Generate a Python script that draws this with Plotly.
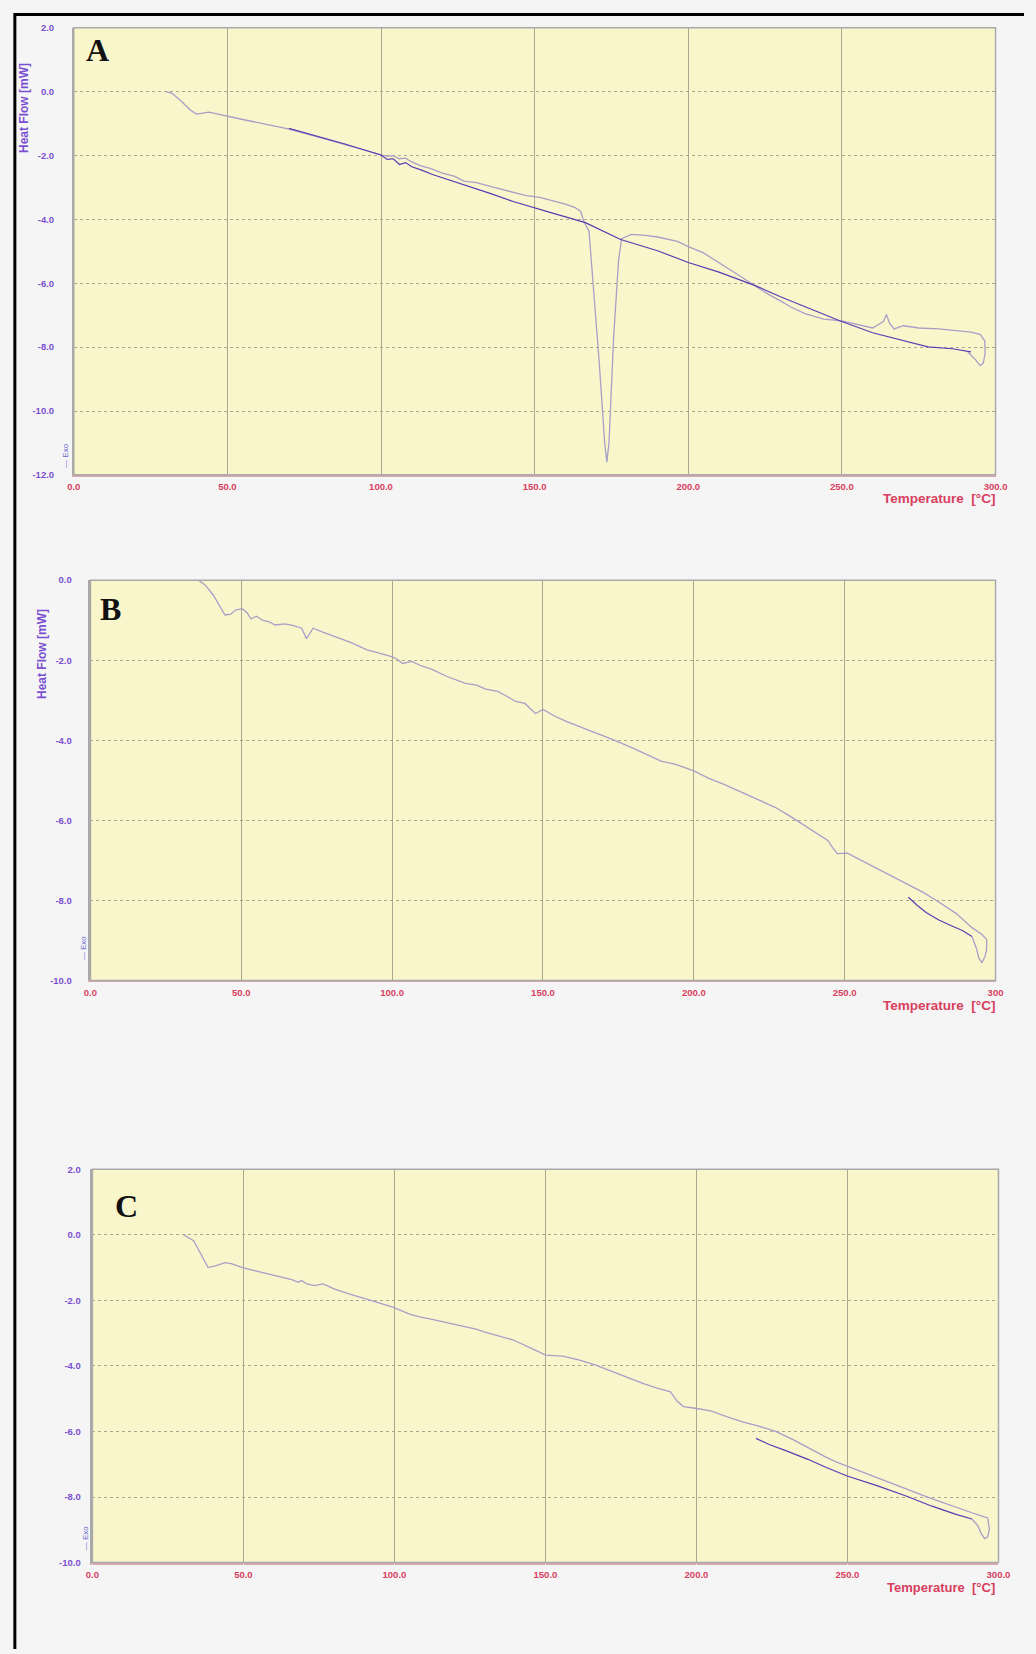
import plotly.graph_objects as go

W, H = 1036, 1654

# ---------------- data ----------------
T_A_heat = [30, 32, 35, 38, 40, 42, 44, 47, 50, 55, 60, 65, 69, 75, 80, 85, 90, 95, 100, 102,
            104, 106, 108, 110, 113, 116, 120, 124, 127, 131, 135, 139, 143, 147, 152, 156, 160, 163, 165,
            166, 167.7, 171, 172.8, 173.5, 174.2, 175.7, 177.3, 178.3,
            181.5, 186, 190, 196.5, 200, 204.8, 210, 217.6, 222, 226, 230, 233.5, 238, 244, 250, 255, 260,
            263.5, 264.5, 265.5, 267, 270, 275, 281.5, 287, 292, 295, 296.5, 296.6, 296, 295, 293.5, 291]
HF_A_heat = [0, -0.05, -0.3, -0.58, -0.7, -0.68, -0.64, -0.7, -0.77, -0.87, -0.97, -1.06, -1.15, -1.3,
             -1.43, -1.57, -1.7, -1.84, -1.98, -2.02, -2.0, -2.1, -2.08, -2.2, -2.32, -2.4, -2.55, -2.65,
             -2.8, -2.85, -2.95, -3.05, -3.13, -3.25, -3.32, -3.42, -3.52, -3.62, -3.75,
             -4.06, -4.37, -8.45, -11.0, -11.6, -11.0, -7.7, -5.3, -4.6,
             -4.47, -4.5, -4.55, -4.69, -4.85, -5.04, -5.35, -5.82, -6.1, -6.34, -6.55, -6.75, -6.95,
             -7.12, -7.18, -7.3, -7.4, -7.2, -6.98, -7.25, -7.43, -7.33, -7.4, -7.43, -7.47, -7.53, -7.6,
             -7.8, -8.2, -8.5, -8.58, -8.4, -8.15]

T_A_cool = [292, 286, 278, 270, 260, 249.5, 240, 230, 222, 210, 200, 190, 178, 166.5, 155, 143, 135,
            128, 122, 117, 113, 110, 108, 106, 104, 102, 100, 97, 93, 88, 82, 76, 70]
HF_A_cool = [-8.15, -8.05, -7.99, -7.8, -7.55, -7.18, -6.82, -6.42, -6.08, -5.65, -5.35, -4.98, -4.63,
             -4.1, -3.78, -3.44, -3.17, -2.95, -2.75, -2.6, -2.45, -2.35, -2.22, -2.28, -2.1, -2.12,
             -1.98, -1.9, -1.78, -1.63, -1.47, -1.3, -1.15]

T_B_heat = [35.8, 38, 40.7, 42.5, 44.6, 46.5, 48.2, 50.4, 52, 53.2, 55, 57, 59.2, 61.2, 64.4, 67, 70,
            71.6, 73, 73.8, 77, 80.8, 86, 91.7, 96, 99.9, 101.5, 103.5, 106.4, 110, 113.2, 118, 124.3,
            128, 131, 135, 138, 141, 144, 147.5, 150, 154, 157.5, 162, 167, 172.8, 180, 189.1, 194,
            199.8, 205, 210, 216, 222, 227.1, 232, 237.9, 242, 244.4, 246, 247.5, 250.9, 255, 259.7,
            265, 270.4, 276, 281.2, 287, 292.2, 295.5, 297.1, 297, 296.5, 295.5, 294.5, 293.8, 292.2]
HF_B_heat = [0, -0.12, -0.37, -0.6, -0.87, -0.85, -0.74, -0.72, -0.82, -0.97, -0.9, -1.0, -1.04, -1.12,
             -1.09, -1.13, -1.2, -1.46, -1.3, -1.2, -1.3, -1.41, -1.55, -1.74, -1.83, -1.91, -1.97,
             -2.08, -2.03, -2.15, -2.23, -2.4, -2.58, -2.62, -2.72, -2.78, -2.9, -3.03, -3.08, -3.33,
             -3.23, -3.4, -3.52, -3.66, -3.8, -3.97, -4.2, -4.52, -4.6, -4.76, -4.95, -5.1, -5.31,
             -5.5, -5.68, -5.9, -6.18, -6.38, -6.5, -6.68, -6.83, -6.82, -6.98, -7.17, -7.36, -7.57,
             -7.8, -8.04, -8.33, -8.68, -8.85, -8.98, -9.25, -9.4, -9.55, -9.45, -9.23, -8.9]

T_B_cool = [292.2, 289, 285, 281.2, 277, 274, 271.1]
HF_B_cool = [-8.9, -8.75, -8.62, -8.49, -8.3, -8.12, -7.92]

T_C_heat = [30.2, 33.5, 36, 38.3, 41, 43.9, 46, 49.7, 54, 58.5, 63, 66, 68.2, 69.2, 71, 73.5, 76.4,
            80, 85, 91, 95, 99.5, 105, 108, 112.5, 118, 123.5, 127, 130, 135, 139.4, 145, 150.1,
            155.7, 161, 166.4, 172, 177, 182.7, 187, 191.4, 193.7, 195.7, 200.2, 205, 210, 215, 220,
            226.2, 232, 237, 242.4, 246, 249.9, 255, 260, 264, 269.4, 275, 280, 286, 291.2, 294,
            296.4, 297, 296.4, 295.4, 294.2, 293.2, 291.2]
HF_C_heat = [0, -0.18, -0.6, -1.0, -0.94, -0.85, -0.88, -1.0, -1.1, -1.2, -1.3, -1.37, -1.45, -1.39,
             -1.5, -1.55, -1.5, -1.65, -1.8, -1.97, -2.07, -2.21, -2.42, -2.5, -2.58, -2.7, -2.82,
             -2.88, -2.97, -3.1, -3.21, -3.45, -3.67, -3.7, -3.82, -3.97, -4.17, -4.35, -4.55, -4.68,
             -4.79, -5.09, -5.24, -5.3, -5.38, -5.55, -5.7, -5.82, -6.0, -6.25, -6.5, -6.76, -6.92,
             -7.06, -7.25, -7.42, -7.55, -7.76, -7.95, -8.12, -8.3, -8.48, -8.57, -8.64, -8.97,
             -9.22, -9.27, -9.1, -8.88, -8.67]

T_C_cool = [291.2, 285.7, 278, 269.4, 260, 249.9, 243, 236.9, 230, 223.9, 219.7]
HF_C_cool = [-8.67, -8.52, -8.28, -7.97, -7.66, -7.36, -7.1, -6.85, -6.6, -6.39, -6.21]

x_ticks = [0, 50, 100, 150, 200, 250, 300]
x_ticktext_A = ["0.0", "50.0", "100.0", "150.0", "200.0", "250.0", "300.0"]
x_ticktext_B = ["0.0", "50.0", "100.0", "150.0", "200.0", "250.0", "300"]
x_ticktext_C = ["0.0", "50.0", "100.0", "150.0", "200.0", "250.0", "300.0"]
y_range_A = [-12, 2]
y_range_B = [-10, 0]
y_range_C = [-10, 2]
panel_labels = ["A", "B", "C"]
x_title = "Temperature  [°C]"
y_title = "Heat Flow [mW]"
exo_text = "— Exo"

# ---------------- styling ----------------
HEAT_COL = "#a89fc7"
COOL_COL = "#5a3cb2"
PLOT_BG = "#f9f6cc"
PAPER_BG = "#f5f5f6"
XTICK_COL = "#d8405e"
YTICK_COL = "#7a4fd0"
GRID_COL = "#aaa890"

# panel boxes in pixels: (left, right, top, bottom)
boxes = [(68, 1007, 22, 472), (85, 1007, 578, 981), (87, 1010, 1171, 1567)]
ystand = [16, 15, 8]
xtitle_y = [496, 1006, 1592]
xtitle_size = [13.5, 13.5, 13]

def px_x(p):
    return p / W

def px_y(p):
    return 1 - p / H

fig = go.Figure()

data = [
    (T_A_heat, HF_A_heat, T_A_cool, HF_A_cool),
    (T_B_heat, HF_B_heat, T_B_cool, HF_B_cool),
    (T_C_heat, HF_C_heat, T_C_cool, HF_C_cool),
]
for i, (th, hh, tc, hc) in enumerate(data):
    xa = "x" if i == 0 else f"x{i+1}"
    ya = "y" if i == 0 else f"y{i+1}"
    fig.add_trace(go.Scatter(x=th, y=hh, mode="lines", xaxis=xa, yaxis=ya,
                             line=dict(color=HEAT_COL, width=1.3), showlegend=False))
    fig.add_trace(go.Scatter(x=tc, y=hc, mode="lines", xaxis=xa, yaxis=ya,
                             line=dict(color=COOL_COL, width=1.2), showlegend=False))

layout = dict(width=W, height=H, autosize=False,
              margin=dict(l=0, r=0, t=0, b=0),
              paper_bgcolor=PAPER_BG, plot_bgcolor=PLOT_BG,
              showlegend=False)

yranges = [y_range_A, y_range_B, y_range_C]
xtexts = [x_ticktext_A, x_ticktext_B, x_ticktext_C]
annotations = []
shapes = []
for i, (l, r, t, b) in enumerate(boxes):
    sx = "" if i == 0 else str(i + 1)
    lo, hi = yranges[i]
    layout[f"xaxis{sx}"] = dict(
        domain=[px_x(l), px_x(r)], range=[0, 300], anchor=f"y{sx}",
        tickmode="array", tickvals=x_ticks, ticktext=xtexts[i],
        tickfont=dict(family="Liberation Sans, Arial", size=9.5, color=XTICK_COL, weight="bold"),
        showgrid=True, gridcolor=GRID_COL, gridwidth=1,
        showline=True, linecolor="#d9a7ae", linewidth=1.5,
        ticks="outside", ticklen=2, tickcolor=PAPER_BG,
        zeroline=False, fixedrange=True)
    layout[f"yaxis{sx}"] = dict(
        domain=[px_y(b), px_y(t)], range=[lo, hi], anchor=f"x{sx}",
        tickmode="array", tickvals=list(range(lo, hi + 1, 2)),
        ticktext=[f"{v:.1f}" for v in range(lo, hi + 1, 2)],
        tickfont=dict(family="Liberation Sans, Arial", size=9.5, color=YTICK_COL, weight="bold"),
        showgrid=True, gridcolor=GRID_COL, gridwidth=1, griddash="dot",
        showline=True, linecolor="#a9a9a9", linewidth=1.5,
        ticks="", ticklabelstandoff=ystand[i],
        zeroline=False, fixedrange=True)
    # grey border around the plot area
    shapes.append(dict(type="rect", xref=f"x{sx} domain", yref=f"y{sx} domain",
                       x0=0, x1=1, y0=0, y1=1, line=dict(color="#a9a9a9", width=1.5),
                       layer="above"))
    # panel letter
    letter_pos = [(92, 44), (105, 607), (122, 1208)][i]
    annotations.append(dict(text=f"<b>{panel_labels[i]}</b>", xref="paper", yref="paper",
                            x=px_x(letter_pos[0]), y=px_y(letter_pos[1]),
                            xanchor="center", yanchor="middle", showarrow=False,
                            font=dict(family="Liberation Serif, Times New Roman", size=32,
                                      color="#111111")))
    # x axis title
    annotations.append(dict(text=f"<b>{x_title}</b>", xref="paper", yref="paper",
                            x=px_x(r + 1 if i < 2 else r - 1), y=px_y(xtitle_y[i]),
                            xanchor="right", yanchor="middle", showarrow=False,
                            font=dict(family="Liberation Sans, Arial", size=xtitle_size[i],
                                      color=XTICK_COL)))
    # exo marker
    exo_pos = [(60, 452), (78, 948), (80, 1542)][i]
    annotations.append(dict(text=exo_text, xref="paper", yref="paper",
                            x=px_x(exo_pos[0]), y=px_y(exo_pos[1]), textangle=-90,
                            xanchor="center", yanchor="middle", showarrow=False,
                            font=dict(family="Liberation Sans, Arial", size=8, color="#6a6ad0")))

# y axis titles (only on A and B)
for (xp, yp) in [(18, 103), (35, 652)]:
    annotations.append(dict(text=f"<b>{y_title}</b>", xref="paper", yref="paper",
                            x=px_x(xp), y=px_y(yp), textangle=-90,
                            xanchor="center", yanchor="middle", showarrow=False,
                            font=dict(family="Liberation Sans, Arial", size=12, color=YTICK_COL)))

# outer black frame (top and left edges)
shapes.append(dict(type="line", xref="paper", yref="paper",
                   x0=px_x(8), x1=1.0, y0=px_y(8.5), y1=px_y(8.5),
                   line=dict(color="#000000", width=3)))
shapes.append(dict(type="line", xref="paper", yref="paper",
                   x0=px_x(8), x1=px_x(8), y0=px_y(7), y1=0,
                   line=dict(color="#000000", width=3)))

layout["annotations"] = annotations
layout["shapes"] = shapes
fig.update_layout(**layout)

post_js = ("document.documentElement.style.margin='0';"
           "document.documentElement.style.overflow='hidden';"
           "document.body.style.margin='0';document.body.style.padding='0';"
           "document.body.style.overflow='hidden';")

fig.write_html("out.html", config=dict(displayModeBar=False), post_script=post_js)
